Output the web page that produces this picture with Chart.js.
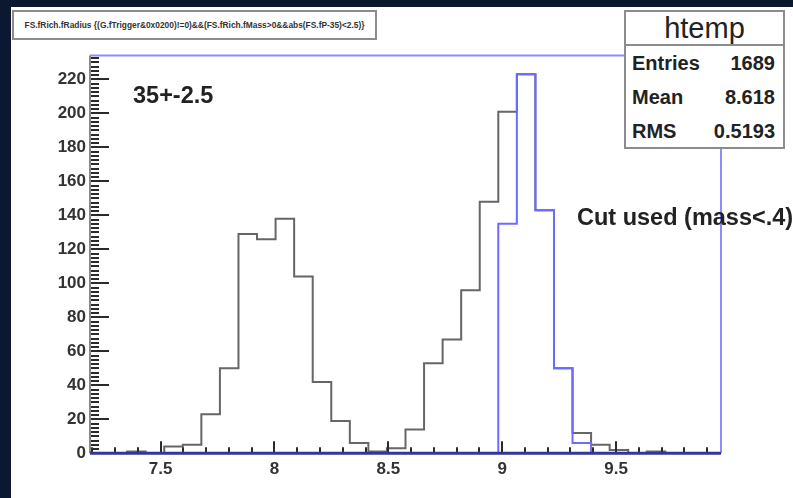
<!DOCTYPE html>
<html>
<head>
<meta charset="utf-8">
<script src="https://cdn.jsdelivr.net/npm/chart.js@4.4.1/dist/chart.umd.min.js"></script>
<style>
  html, body { margin: 0; padding: 0; width: 793px; height: 498px; overflow: hidden; background: #0b1830; }
  #pad { position: absolute; left: 11px; top: 7px; width: 782px; height: 491px; background: #fff; overflow: hidden; }
  #pad canvas { position: absolute; left: 0; top: 0; }
  .txt { position: absolute; font-family: "Liberation Sans", Arial, sans-serif; color: #222; white-space: nowrap; }
  .box { position: absolute; background: #fff; border: 2px solid #8c8c8c; box-sizing: border-box; }
  #title { left: 1px; top: 3px; width: 365px; height: 30px; }
  #title .txt { left: 0; right: 0; top: 0; line-height: 26px; text-align: center; font-size: 8.4px; font-weight: bold; color: #333; }
  #stats { left: 613px; top: 3px; width: 161px; height: 139px; }
  #stats .head { left: 0; right: 0; top: 0; height: 32px; line-height: 32px; text-align: center; font-size: 29px; border-bottom: 2px solid #8c8c8c; }
  #stats .row { left: 6px; right: 8px; height: 22px; line-height: 22px; font-size: 20px; font-weight: bold; }
  #stats .row span { float: right; }
  #note1 { left: 122px; top: 75px; font-size: 23.5px; font-weight: bold; }
  #note2 { left: 566px; top: 197px; font-size: 23.5px; font-weight: bold; }
</style>
</head>
<body>
<div id="pad">
  <canvas id="histChart" width="782" height="491"></canvas>
  <div id="title" class="box"><div class="txt">FS.fRich.fRadius {(G.fTrigger&amp;0x0200)!=0)&amp;&amp;(FS.fRich.fMass&gt;0&amp;&amp;abs(FS.fP-35)&lt;2.5)}</div></div>
  <div id="note1" class="txt">35+-2.5</div>
  <div id="note2" class="txt">Cut used (mass&lt;.4)</div>
  <div id="stats" class="box">
    <div class="txt head">htemp</div>
    <div class="txt row" style="top:40px">Entries<span>1689</span></div>
    <div class="txt row" style="top:74px">Mean<span>8.618</span></div>
    <div class="txt row" style="top:108px">RMS<span>0.5193</span></div>
  </div>
</div>
<script>
// histogram binning
const xMin = 7.19;
const binWidth = 0.0815;
const nBins = 34;
const xMax = xMin + nBins * binWidth;

// all entries (grey)
const allCounts = [
    0, 0, 1, 0, 4, 5, 23, 50, 129, 126,
    138, 104, 42, 19, 6, 1, 3, 14, 53, 67,
    96, 148, 201, 223, 143, 50, 12, 5, 2, 0,
    1, 0, 0, 0,
];
// with mass cut (blue)
const cutCounts = [
    0, 0, 0, 0, 0, 0, 0, 0, 0, 0,
    0, 0, 0, 0, 0, 0, 0, 0, 0, 0,
    0, 0, 135, 223, 143, 50, 6, 0, 0, 0,
    0, 0, 0, 0,
];

const xLabels = [7.5, 8, 8.5, 9, 9.5];
const yLabels = [0, 20, 40, 60, 80, 100, 120, 140, 160, 180, 200, 220];
const yMax = 234;

function toSteps(counts) {
    const pts = counts.map((c, i) => ({ x: xMin + i * binWidth, y: c }));
    pts.push({ x: xMax, y: counts[counts.length - 1] });
    return pts;
}

// ROOT style inward ticks plus the frame
const rootFrame = {
    id: 'rootFrame',
    afterDraw(chart) {
        const { ctx, chartArea: a } = chart;
        const x = chart.scales.x;
        const y = chart.scales.y;
        ctx.save();
        ctx.lineWidth = 2;
        ctx.strokeStyle = '#2a2a2a';
        for (let v = 0; v <= yMax; v += 2.5) {
            const py = Math.round(y.getPixelForValue(v));
            const len = v % 20 === 0 ? 19 : 9;
            ctx.beginPath();
            ctx.moveTo(a.left, py);
            ctx.lineTo(a.left + len, py);
            ctx.stroke();
        }
        for (let k = 72; k <= 99; k++) {
            const px = Math.round(x.getPixelForValue(k / 10));
            const len = k % 5 === 0 ? 12 : 6;
            ctx.beginPath();
            ctx.moveTo(px, a.bottom);
            ctx.lineTo(px, a.bottom - len);
            ctx.stroke();
        }
        // frame
        ctx.lineWidth = 2;
        ctx.strokeStyle = '#8c8cff';
        ctx.beginPath();
        ctx.moveTo(a.left, a.top);
        ctx.lineTo(a.right, a.top);
        ctx.lineTo(a.right, a.bottom);
        ctx.stroke();
        ctx.strokeStyle = '#8a8a8a';
        ctx.beginPath();
        ctx.moveTo(a.left, a.top);
        ctx.lineTo(a.left, a.bottom);
        ctx.stroke();
        ctx.lineWidth = 3;
        ctx.strokeStyle = '#34349a';
        ctx.beginPath();
        ctx.moveTo(a.left, a.bottom);
        ctx.lineTo(a.right, a.bottom);
        ctx.stroke();
        ctx.restore();
    },
};

const labelFont = { family: '"Liberation Sans", Arial, sans-serif', size: 17, weight: 'bold' };

new Chart(document.getElementById('histChart').getContext('2d'), {
    type: 'line',
    data: {
        datasets: [{
            label: 'mass cut',
            data: toSteps(cutCounts),
            stepped: true,
            borderColor: '#6b6bff',
            borderWidth: 2,
            pointRadius: 0,
            fill: false,
            order: 0,
        }, {
            label: 'all',
            data: toSteps(allCounts),
            stepped: true,
            borderColor: '#666',
            borderWidth: 2,
            pointRadius: 0,
            fill: false,
            order: 1,
        }],
    },
    options: {
        responsive: false,
        animation: false,
        layout: { padding: { top: 48.6, right: 72, left: 0, bottom: 0 } },
        plugins: { legend: { display: false }, tooltip: { enabled: false } },
        scales: {
            x: {
                type: 'linear',
                min: xMin,
                max: xMax,
                grid: { display: false, drawTicks: false },
                border: { display: false },
                afterBuildTicks: (s) => { s.ticks = xLabels.map((v) => ({ value: v })); },
                afterFit: (s) => { s.height = 44.7; },
                ticks: { padding: 6, color: '#333', font: labelFont, callback: (v) => String(v), autoSkip: false, maxRotation: 0 },
            },
            y: {
                min: 0,
                max: yMax,
                grid: { display: false, drawTicks: false },
                border: { display: false },
                afterBuildTicks: (s) => { s.ticks = yLabels.map((v) => ({ value: v })); },
                afterFit: (s) => { s.width = 79; },
                ticks: { padding: 4, color: '#333', font: labelFont, callback: (v) => String(v), autoSkip: false },
            },
        },
    },
    plugins: [rootFrame],
});
</script>
</body>
</html>
